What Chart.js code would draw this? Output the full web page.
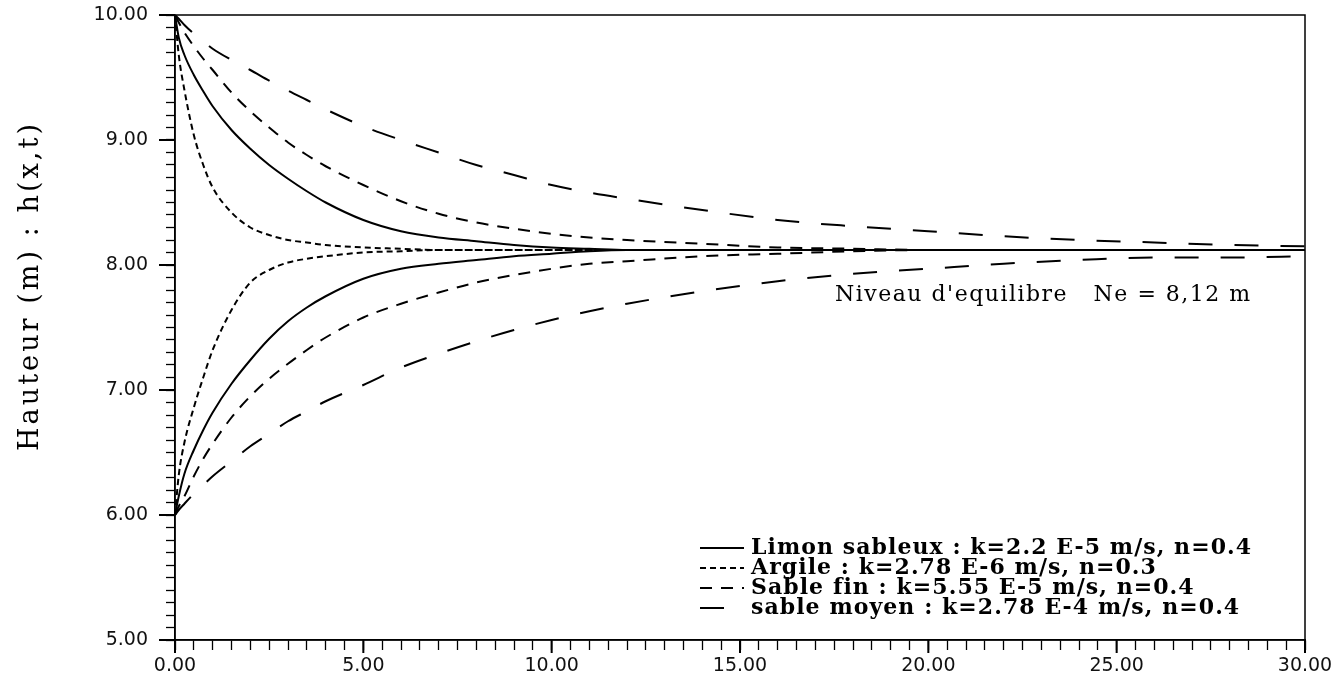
<!DOCTYPE html>
<html>
<head>
<meta charset="utf-8">
<script src="https://cdn.jsdelivr.net/npm/chart.js@4.4.1/dist/chart.umd.min.js"></script>
<style>
  html, body { margin: 0; padding: 0; background: #fff; }
</style>
</head>
<body>
<canvas id="chart" width="1338" height="681"></canvas>
<script>
// Temps (x) commun a toutes les courbes
const xValues = [0, 0.1, 0.25, 0.5, 0.75, 1, 1.5, 2, 2.5, 3, 3.5, 4, 5, 6, 7, 8, 9, 10, 11, 12, 14, 16, 18, 20, 22, 24, 26, 28, 30];

// Hauteur h(x,t) : courbe haute (depart 10 m) et basse (depart 6 m)
const limonHaut = [10, 9.82, 9.68, 9.52, 9.39, 9.27, 9.08, 8.93, 8.80, 8.69, 8.59, 8.50, 8.36, 8.27, 8.22, 8.19, 8.16, 8.14, 8.13, 8.12, 8.12, 8.12, 8.12, 8.12, 8.12, 8.12, 8.12, 8.12, 8.12];
const limonBas = [6.0, 6.15, 6.33, 6.52, 6.68, 6.82, 7.05, 7.24, 7.41, 7.55, 7.66, 7.75, 7.89, 7.97, 8.01, 8.04, 8.07, 8.09, 8.11, 8.12, 8.12, 8.12, 8.12, 8.12, 8.12, 8.12, 8.12, 8.12, 8.12];
const argileHaut = [10, 9.68, 9.40, 9.04, 8.80, 8.62, 8.42, 8.30, 8.24, 8.20, 8.18, 8.16, 8.14, 8.13, 8.12, 8.12, 8.12, 8.12, 8.12, 8.12, 8.12, 8.12, 8.12, 8.12, 8.12, 8.12, 8.12, 8.12, 8.12];
const argileBas = [6.0, 6.32, 6.58, 6.86, 7.10, 7.32, 7.64, 7.86, 7.96, 8.02, 8.05, 8.07, 8.10, 8.11, 8.12, 8.12, 8.12, 8.12, 8.12, 8.12, 8.12, 8.12, 8.12, 8.12, 8.12, 8.12, 8.12, 8.12, 8.12];
const sableFinHaut = [10, 9.94, 9.86, 9.75, 9.65, 9.56, 9.38, 9.23, 9.10, 8.98, 8.88, 8.79, 8.64, 8.51, 8.41, 8.34, 8.29, 8.25, 8.22, 8.20, 8.17, 8.14, 8.13, 8.12, 8.12, 8.12, 8.12, 8.12, 8.12];
const sableFinBas = [6.0, 6.07, 6.15, 6.31, 6.45, 6.57, 6.78, 6.95, 7.09, 7.21, 7.32, 7.42, 7.58, 7.69, 7.78, 7.86, 7.92, 7.97, 8.01, 8.03, 8.07, 8.09, 8.11, 8.12, 8.12, 8.12, 8.12, 8.12, 8.12];
const sableMoyenHaut = [10, 9.97, 9.92, 9.85, 9.79, 9.73, 9.64, 9.56, 9.475, 9.395, 9.32, 9.245, 9.11, 9.00, 8.90, 8.80, 8.72, 8.64, 8.58, 8.53, 8.44, 8.36, 8.31, 8.27, 8.23, 8.20, 8.18, 8.16, 8.15];
const sableMoyenBas = [6.0, 6.04, 6.09, 6.17, 6.24, 6.31, 6.43, 6.55, 6.65, 6.75, 6.83, 6.91, 7.04, 7.18, 7.29, 7.39, 7.48, 7.56, 7.63, 7.69, 7.79, 7.87, 7.93, 7.97, 8.01, 8.04, 8.06, 8.06, 8.07];

const legendLabels = [
    'Limon sableux : k=2.2 E-5 m/s, n=0.4',
    'Argile : k=2.78 E-6 m/s, n=0.3',
    'Sable fin : k=5.55 E-5 m/s, n=0.4',
    'sable moyen : k=2.78 E-4 m/s, n=0.4'
];
const yTitle = 'Hauteur (m) : h(x,t)';
const niveauLabel = "Niveau d'equilibre   Ne = 8,12 m";

const dashes = [[], [6, 4], [12, 9], [24, 22]];
const series = [
    [limonHaut, limonBas],
    [argileHaut, argileBas],
    [sableFinHaut, sableFinBas],
    [sableMoyenHaut, sableMoyenBas]
];

const toPoints = ys => xValues.map((x, i) => ({ x: x, y: ys[i] }));

const datasets = [];
series.forEach((pair, i) => {
    pair.forEach(ys => {
        datasets.push({
            label: legendLabels[i],
            data: toPoints(ys),
            borderColor: '#000',
            borderWidth: 2,
            borderDash: dashes[i],
            pointRadius: 0,
            cubicInterpolationMode: 'monotone',
            fill: false
        });
    });
});

const isMultiple = (v, step) => Math.abs(v / step - Math.round(v / step)) < 1e-6;

// letter spacing so that text spans the given width
function spacingFor(ctx, text, width) {
    ctx.letterSpacing = '0px';
    const w = ctx.measureText(text).width;
    return (width - w) / Math.max(1, text.length - 1);
}

const decorPlugin = {
    id: 'decor',
    afterDraw(chart) {
        const { ctx, chartArea: a, scales } = chart;
        ctx.save();

        // cadre
        ctx.strokeStyle = '#000';
        ctx.lineWidth = 1.5;
        ctx.strokeRect(a.left, a.top, a.right - a.left, a.bottom - a.top);

        // graduations principales plus longues
        ctx.lineWidth = 2;
        ctx.beginPath();
        for (let v = 5; v <= 10; v++) {
            const py = scales.y.getPixelForValue(v);
            ctx.moveTo(a.left - 16, py);
            ctx.lineTo(a.left, py);
        }
        for (let v = 0; v <= 30; v += 5) {
            const px = scales.x.getPixelForValue(v);
            ctx.moveTo(px, a.bottom);
            ctx.lineTo(px, a.bottom + 13);
        }
        ctx.stroke();

        ctx.fillStyle = '#000';
        ctx.textBaseline = 'middle';
        ctx.textAlign = 'left';

        // titre de l'axe des y
        ctx.save();
        ctx.translate(31, 288);
        ctx.rotate(-Math.PI / 2);
        ctx.font = '27px "DejaVu Serif"';
        ctx.letterSpacing = spacingFor(ctx, yTitle, 327).toFixed(2) + 'px';
        ctx.fillText(yTitle, -163, 0);
        ctx.restore();

        // niveau d'equilibre
        ctx.font = '22px "DejaVu Serif"';
        ctx.letterSpacing = spacingFor(ctx, niveauLabel, 415).toFixed(2) + 'px';
        ctx.fillText(niveauLabel, 835, 295);

        // legende
        ctx.font = 'bold 22px "DejaVu Serif"';
        const spacing = spacingFor(ctx, legendLabels[0], 500);
        legendLabels.forEach((label, i) => {
            const y = 548 + i * 20;
            ctx.beginPath();
            ctx.setLineDash(dashes[i]);
            ctx.lineWidth = 2;
            ctx.moveTo(700, y);
            ctx.lineTo(744, y);
            ctx.stroke();
            ctx.setLineDash([]);
            ctx.letterSpacing = spacing.toFixed(2) + 'px';
            ctx.fillText(label, 751, y);
        });
        ctx.letterSpacing = '0px';
        ctx.restore();
    }
};

new Chart(document.getElementById('chart'), {
    type: 'line',
    data: { datasets: datasets },
    options: {
        responsive: false,
        animation: false,
        devicePixelRatio: 1,
        layout: { padding: { left: 0, top: 15, right: 33, bottom: 0 } },
        plugins: {
            legend: { display: false },
            tooltip: { enabled: false }
        },
        scales: {
            x: {
                type: 'linear',
                min: 0,
                max: 30,
                afterFit: s => {
                    s.height = 41;
                    s.paddingLeft = 0;
                    s.paddingRight = 0;
                },
                border: { display: true, color: '#000', width: 1.5 },
                grid: {
                    drawOnChartArea: false,
                    tickLength: 10,
                    tickColor: '#000',
                    tickWidth: 1.3
                },
                ticks: {
                    stepSize: 0.5,
                    maxTicksLimit: 200,
                    autoSkip: false,
                    maxRotation: 0,
                    padding: 5,
                    color: '#111',
                    font: { family: '"DejaVu Sans"', size: 19 },
                    callback: v => isMultiple(v, 5) ? v.toFixed(2) : ''
                }
            },
            y: {
                min: 5,
                max: 10,
                afterFit: s => {
                    s.width = 175;
                    s.paddingTop = 0;
                    s.paddingBottom = 0;
                },
                border: { display: true, color: '#000', width: 1.5 },
                grid: {
                    drawOnChartArea: false,
                    tickLength: 9,
                    tickColor: '#000',
                    tickWidth: 1.3
                },
                ticks: {
                    stepSize: 0.1,
                    maxTicksLimit: 200,
                    autoSkip: false,
                    padding: 18,
                    color: '#111',
                    font: { family: '"DejaVu Sans"', size: 19 },
                    callback: v => isMultiple(v, 1) ? v.toFixed(2) : ''
                }
            }
        }
    },
    plugins: [decorPlugin]
});
</script>
</body>
</html>
